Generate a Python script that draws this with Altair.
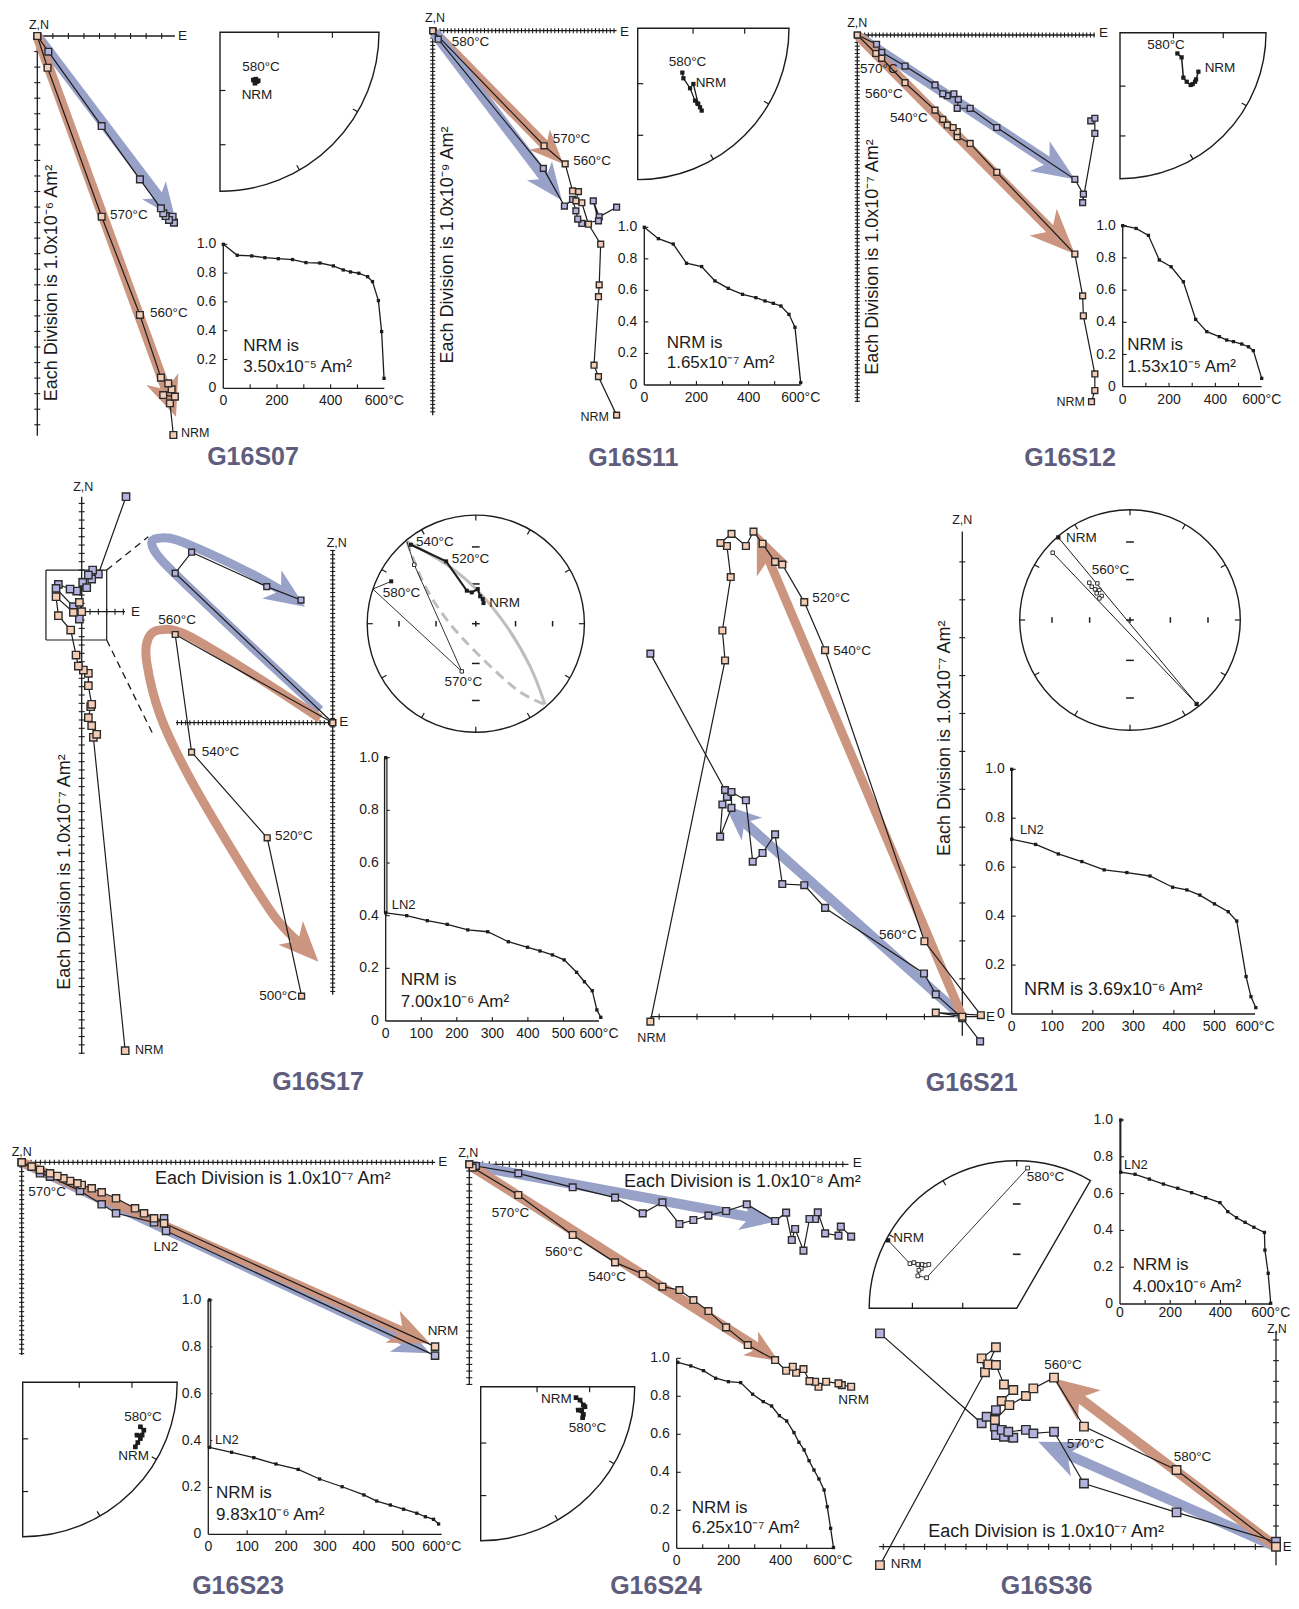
import math
import altair as alt
import pandas as pd

MARGIN = 8
FONT = "Liberation Sans"
INK = "#1c1c1c"
BLUE_BAND = "#98a1c8"
ORANGE_BAND = "#cc957f"
BLUE_FILL = "#b4b3df"
ORANGE_FILL = "#f5cdb5"
SQ_EDGE = "#2c2c2c"
TITLE_COL = "#5e5d7d"
GREY = "#bebebe"
HEAD = "M0,0 L0.85,2 L0,1.45 L-0.85,2 Z"
R60 = math.sqrt(2) * math.sin(math.radians(15))   # equal-area radius, inc 60
R30 = math.sqrt(2) * math.sin(math.radians(30))   # equal-area radius, inc 30

# ============================ DATA ============================
# Zijderveld values in axis divisions (x = E, y = down), stereonet values in
# projected unit-circle coordinates, demag values as (temperature, M/M0).

# ---- G16S07 ----
S07_BLUE_X = [8.79, 8.70, 8.47, 8.25, 8.10, 7.95, 6.60, 4.14, 0.71, 0.0]
S07_BLUE_Y = [12.00, 11.62, 11.83, 11.58, 11.40, 11.08, 9.22, 5.79, 1.01, 0.0]
S07_ORNG_X = [8.75, 8.53, 8.85, 8.10, 8.64, 8.42, 7.95, 6.60, 4.14, 0.66, 0.0]
S07_ORNG_Y = [25.66, 23.62, 23.19, 23.09, 22.72, 22.34, 21.97, 17.94, 11.62, 2.04, 0.0]
S07_BLUE_TIP = (8.86, 11.72)
S07_ORNG_TIP = (8.92, 24.48)
S07_ST_X = [0.21, 0.23, 0.22, 0.24, 0.225]
S07_ST_Y = [-0.30, -0.31, -0.32, -0.305, -0.295]
S07_T = [0, 52, 106, 155, 205, 258, 308, 360, 410, 447, 474, 505, 538, 556, 578, 590, 599]
S07_M = [1.0, 0.924, 0.919, 0.907, 0.900, 0.894, 0.873, 0.870, 0.850, 0.822, 0.808, 0.799,
         0.775, 0.741, 0.609, 0.394, 0.069]

# ---- G16S11 ----
S11_ORNG_X = [49.7, 44.8, 43.6, 44.8, 45.0, 45.4, 42.1, 40.3, 38.7, 39.4, 37.8, 35.8, 30.1, 0.0]
S11_ORNG_Y = [103.9, 93.5, 90.4, 71.9, 68.7, 57.7, 52.3, 46.5, 46.0, 43.5, 43.3, 36.0, 31.1, 0.0]
S11_BLUE_X = [49.7, 45.0, 43.4, 44.8, 40.3, 39.2, 38.7, 37.8, 35.6, 29.9, 1.5, 0.0]
S11_BLUE_Y = [47.7, 50.3, 46.0, 51.4, 52.1, 50.9, 48.7, 45.6, 47.4, 37.2, 2.3, 0.0]
S11_ORNG_TIP = (35.3, 36.0)
S11_BLUE_TIP = (34.9, 45.8)
S11_ST_X = [0.295, 0.302, 0.346, 0.379, 0.394, 0.412, 0.423, 0.400, 0.368]
S11_ST_Y = [-0.293, -0.330, -0.396, -0.478, -0.496, -0.522, -0.544, -0.500, -0.368]
S11_T = [0, 54, 111, 162, 220, 271, 322, 377, 428, 463, 495, 524, 555, 578, 600]
S11_M = [1.0, 0.928, 0.894, 0.772, 0.751, 0.660, 0.613, 0.575, 0.554, 0.533, 0.518, 0.501,
         0.448, 0.366, 0.015]

# ---- G16S12 ----
S12_BLUE_X = [63.1, 64.2, 64.2, 60.9, 61.1, 58.8, 37.7, 30.5, 27.0, 27.3, 26.1, 24.3, 23.1,
              21.0, 12.9, 6.6, 5.2, 0.0]
S12_BLUE_Y = [23.2, 22.5, 26.6, 45.3, 43.0, 39.0, 25.0, 19.8, 19.8, 17.4, 15.9, 16.4, 15.9,
              13.5, 8.4, 4.7, 2.5, 0.0]
S12_ORNG_X = [63.3, 64.2, 64.2, 61.1, 60.9, 58.8, 37.7, 30.5, 27.0, 27.0, 25.9, 24.3, 23.1,
              21.0, 12.9, 6.6, 5.0, 0.0]
S12_ORNG_Y = [99.1, 96.1, 91.6, 75.9, 70.5, 59.2, 37.1, 29.3, 27.5, 26.1, 25.0, 24.3, 22.8,
              20.3, 12.9, 6.3, 5.0, 0.0]
S12_BLUE_TIP = (58.8, 39.0)
S12_ORNG_TIP = (58.8, 59.2)
S12_ST_X = [0.393, 0.422, 0.434, 0.457, 0.484, 0.498, 0.514, 0.521, 0.537]
S12_ST_Y = [-0.142, -0.169, -0.308, -0.336, -0.358, -0.352, -0.336, -0.320, -0.267]
S12_T = [0, 58, 111, 158, 209, 262, 315, 363, 417, 449, 478, 514, 543, 564, 600]
S12_M = [1.0, 0.983, 0.940, 0.787, 0.745, 0.652, 0.418, 0.342, 0.311, 0.290, 0.280, 0.265,
         0.248, 0.224, 0.052]

# ---- G16S17 ----
S17_BLUE_X = [5.32, 2.0, 1.32, 1.2, 0.8, 0.12, 0.6, -0.6, -1.4, -2.8, -3.08, -1.0, -0.28]
S17_BLUE_Y = [-13.8, -4.52, -5.0, -3.92, -4.4, -3.52, -2.88, -2.48, -2.72, -3.28, -2.8, -0.6, 0.88]
S17_ORNG_X = [5.22, 1.4, 1.8, 1.2, 0.8, 1.08, 1.2, 0.8, 0.8, 0.2, -0.4, -0.68, -1.32, -2.8,
              -3.08, -1.0, -0.28, 0.0]
S17_ORNG_Y = [52.7, 15.08, 14.72, 13.68, 12.72, 11.4, 11.12, 8.88, 7.4, 7.0, 6.52, 5.2, 2.2,
              0.48, -1.8, 0.08, -1.12, 0.0]
S17_BOX_X = [-4.29, 3.0]
S17_BOX_Y = [-5.0, 3.4]
S17_IN_BLUE_X = [-7.55, -15.7, -33.6, -37.5, 0.0]
S17_IN_BLUE_Y = [-29.2, -32.4, -40.6, -35.6, 0.0]
S17_IN_ORNG_X = [-7.4, -15.6, -33.6, -37.5, 0.0]
S17_IN_ORNG_Y = [65.1, 27.4, 7.0, -21.0, 0.0]
S17_BBAND_X = [-3.0, -18.9, -34.8, -41.1, -43.1, -41.5, -37.1, -26.8, -18.9, -12.5]
S17_BBAND_Y = [-3.0, -17.7, -32.8, -39.1, -42.7, -43.9, -43.5, -39.1, -35.2, -31.6]
S17_BBAND_TIP = (-6.6, -27.6)
S17_OBAND_X = [-3.0, -18.9, -34.8, -41.1, -43.9, -44.3, -41.1, -34.8, -25.2, -14.1]
S17_OBAND_Y = [-1.0, -11.4, -20.9, -22.1, -20.1, -14.5, -1.8, 11.7, 28.3, 45.8]
S17_OBAND_TIP = (-3.4, 56.9)
S17_ST_X = [0.071, 0.064, 0.040, 0.018, -0.037, -0.083, -0.273, -0.598]
S17_ST_Y = [0.190, 0.227, 0.252, 0.319, 0.288, 0.304, 0.574, 0.727]
S17_ST_THIN_X = [-0.635, -0.567, -0.129, -0.948, -0.779]
S17_ST_THIN_Y = [0.758, 0.543, -0.439, 0.319, 0.390]
S17_GC1_X = [-0.635, -0.267, 0.009, 0.285, 0.500, 0.638]
S17_GC1_Y = [0.758, 0.543, 0.313, -0.025, -0.393, -0.745]
S17_GC2_X = [-0.635, -0.482, -0.267, 0.009, 0.377, 0.638]
S17_GC2_Y = [0.758, 0.374, 0.037, -0.270, -0.607, -0.745]
S17_T = [0, 0, 59, 117, 173, 231, 287, 345, 399, 434, 469, 502, 537, 559, 581, 594, 605]
S17_M = [1.0, 0.411, 0.400, 0.381, 0.367, 0.346, 0.339, 0.301, 0.280, 0.266, 0.251, 0.232,
         0.185, 0.149, 0.115, 0.042, 0.014]

# ---- G16S21 ----
S21_ORNG_X = [-8.23, -6.26, -6.33, -6.11, -6.21, -6.38, -6.09, -5.71, -5.51, -5.27, -4.94,
              -4.75, -4.17, -3.62, -1.0, 0.49, -0.70, 0.0]
S21_ORNG_Y = [0.13, -9.40, -10.19, -11.6, -12.42, -12.5, -12.74, -12.42, -12.8, -12.48, -12.0,
              -11.93, -10.94, -9.67, -1.99, -0.04, -0.11, 0.0]
S21_BLUE_X = [-8.23, -6.26, -6.21, -6.33, -6.39, -6.09, -6.09, -5.71, -5.53, -5.27, -4.94,
              -4.75, -4.17, -3.62, -1.01, -0.70, 0.0, 0.47]
S21_BLUE_Y = [-9.58, -5.98, -5.80, -5.60, -4.75, -5.51, -5.93, -5.71, -4.09, -4.32, -4.81,
              -3.50, -3.47, -2.87, -1.14, -0.59, 0.04, 0.65]
S21_ORNG_TIP = (-5.42, -12.79)
S21_BLUE_TIP = (-6.26, -5.58)
S21_ST_A_X = [-0.650, 0.604]
S21_ST_A_Y = [0.749, -0.761]
S21_ST_B_X = [-0.701, 0.604]
S21_ST_B_Y = [0.610, -0.761]
S21_ST_OPEN_X = [-0.701, -0.369, -0.347, -0.296, -0.317, -0.278, -0.302, -0.257, -0.278]
S21_ST_OPEN_Y = [0.610, 0.338, 0.302, 0.332, 0.278, 0.272, 0.242, 0.218, 0.196]
S21_T = [0, 0, 59, 115, 173, 228, 284, 341, 397, 432, 464, 500, 534, 555, 578, 590, 602]
S21_M = [1.0, 0.714, 0.693, 0.654, 0.623, 0.589, 0.578, 0.564, 0.518, 0.507, 0.486, 0.450,
         0.418, 0.380, 0.153, 0.071, 0.026]

# ---- G16S23 ----
S23_ORNG_X = [88.57, 30.5, 28.36, 26.21, 24.29, 20.21, 17.14, 15.0, 12.86, 11.93, 10.36, 8.93,
              7.64, 6.07, 3.93, 2.14, 0.0]
S23_ORNG_Y = [39.5, 13.07, 12.0, 10.93, 9.86, 7.71, 6.43, 5.57, 4.86, 4.5, 4.0, 3.43, 2.93,
              2.36, 1.64, 0.93, 0.0]
S23_BLUE_X = [88.57, 30.93, 30.5, 28.36, 20.21, 17.14, 12.5, 6.07, 3.93, 0.0]
S23_BLUE_Y = [41.43, 14.71, 12.0, 12.86, 10.93, 9.0, 6.14, 3.07, 2.36, 0.0]
S23_ORNG_TIP = (87.5, 38.8)
S23_BLUE_TIP = (87.5, 40.9)
S23_ST_X = [0.762, 0.784, 0.773, 0.740, 0.762, 0.745, 0.729]
S23_ST_Y = [-0.288, -0.310, -0.342, -0.342, -0.364, -0.390, -0.418]
S23_T = [3, 3, 60, 117, 174, 231, 286, 344, 400, 433, 468, 502, 536, 558, 579, 592]
S23_M = [1.0, 0.371, 0.350, 0.327, 0.300, 0.277, 0.236, 0.203, 0.168, 0.142, 0.125, 0.107,
         0.090, 0.075, 0.064, 0.044]

# ---- G16S24 ----
S24_BLUE_X = [57.25, 55.7, 55.35, 53.35, 52.25, 51.85, 51.0, 50.1, 48.85, 48.35, 47.5, 45.85,
              41.6, 38.5, 35.85, 33.6, 31.5, 28.95, 26.0, 21.85, 15.5, 7.35, 1.0, 0.0]
S24_BLUE_Y = [10.85, 9.35, 10.7, 10.35, 7.2, 8.2, 8.2, 12.95, 9.7, 11.35, 7.25, 8.5, 6.0, 7.0,
              7.7, 8.35, 8.95, 5.7, 7.35, 5.0, 3.45, 1.35, 0.25, 0.0]
S24_ORNG_X = [57.25, 55.85, 55.35, 53.5, 52.35, 51.85, 51.0, 50.1, 49.0, 48.5, 47.5, 45.85,
              41.75, 38.5, 35.85, 33.6, 31.5, 28.95, 26.0, 21.85, 15.5, 7.35, 0.5, 0.0]
S24_ORNG_Y = [33.35, 33.1, 32.85, 32.6, 33.35, 32.6, 32.5, 30.7, 31.25, 30.35, 30.95, 29.35,
              27.1, 24.45, 22.0, 20.35, 18.85, 18.35, 16.45, 14.7, 10.6, 4.6, 0.5, 0.0]
S24_BLUE_TIP = (45.85, 8.6)
S24_ORNG_TIP = (46.35, 29.5)
S24_ST_X = [0.619, 0.645, 0.667, 0.677, 0.656, 0.634, 0.667, 0.662]
S24_ST_Y = [-0.071, -0.087, -0.119, -0.130, -0.152, -0.152, -0.180, -0.201]
S24_T = [4, 54, 103, 150, 199, 246, 292, 333, 365, 395, 423, 451, 470, 490, 509, 528, 547,
         567, 579, 592, 603]
S24_M = [0.979, 0.960, 0.935, 0.895, 0.877, 0.872, 0.811, 0.772, 0.749, 0.698, 0.670, 0.609,
         0.558, 0.518, 0.461, 0.412, 0.365, 0.307, 0.219, 0.105, 0.004]

# ---- G16S36 ----
S36_ORNG_X = [-19.16, -14.08, -14.24, -13.55, -13.92, -13.55, -13.16, -12.71, -13.27, -13.6,
              -12.9, -12.1, -11.74, -10.74, -9.29, -4.81, 0.0]
S36_ORNG_Y = [0.89, -8.44, -9.11, -9.65, -8.82, -8.79, -7.85, -7.58, -7.05, -6.13, -6.85,
              -7.29, -7.66, -8.18, -5.81, -3.71, 0.0]
S36_BLUE_X = [-19.16, -14.24, -14.0, -13.55, -13.6, -13.55, -13.16, -12.71, -13.27, -12.95,
              -12.1, -11.74, -10.74, -9.29, -4.81, 0.0]
S36_BLUE_Y = [-10.32, -5.97, -6.29, -6.61, -5.81, -5.40, -5.32, -5.27, -5.65, -5.56, -5.65,
              -5.48, -5.56, -3.06, -1.66, -0.24]
S36_ORNG_TIP = (-10.77, -8.15)
S36_BLUE_TIP = (-11.5, -5.08)
S36_ST_X = [-0.872, -0.724, -0.697, -0.670, -0.640, -0.618, -0.596, -0.647, -0.663, -0.670,
            -0.611, 0.074]
S36_ST_Y = [0.461, 0.303, 0.310, 0.297, 0.297, 0.292, 0.297, 0.270, 0.258, 0.220, 0.207, 0.951]
S36_T = [3, 3, 60, 117, 173, 230, 285, 341, 398, 429, 464, 498, 533, 575, 577, 590, 600]
S36_M = [1.0, 0.716, 0.705, 0.679, 0.652, 0.629, 0.605, 0.578, 0.551, 0.502, 0.469, 0.444,
         0.417, 0.389, 0.293, 0.167, 0.004]

Y_TICK_VALS = [0, 0.2, 0.4, 0.6, 0.8, 1.0]
Y_TICK_TEXT = ["0", "0.2", "0.4", "0.6", "0.8", "1.0"]
X_LAB_200 = ([0, 200, 400, 600], ["0", "200", "400", "600°C"])
X_LAB_100 = ([0, 100, 200, 300, 400, 500, 600], ["0", "100", "200", "300", "400", "500", "600°C"])


# ============================ HELPERS ============================
class Panel:
    def __init__(self, xdom, xpx, ydom, ypx):
        self.xd, self.xp, self.yd, self.yp = xdom, xpx, ydom, ypx
        self.xs = alt.Scale(domain=list(xdom), range=[xpx[0] - MARGIN, xpx[1] - MARGIN],
                            nice=False, zero=False)
        self.ys = alt.Scale(domain=list(ydom), range=[ypx[0] - MARGIN, ypx[1] - MARGIN],
                            nice=False, zero=False)
        self.kx = (xpx[1] - xpx[0]) / (xdom[1] - xdom[0])
        self.ky = (ypx[1] - ypx[0]) / (ydom[1] - ydom[0])
        self.ppx, self.ppy = abs(self.kx), abs(self.ky)
        self.layers = []

    def ux(self, px):
        return self.xd[0] + (px - self.xp[0]) / self.kx

    def uy(self, py):
        return self.yd[0] + (py - self.yp[0]) / self.ky

    def enc(self, **extra):
        e = dict(x=alt.X("x:Q", scale=self.xs, axis=None),
                 y=alt.Y("y:Q", scale=self.ys, axis=None))
        e.update(extra)
        return e

    def line(self, xs, ys, **kw):
        df = pd.DataFrame({"x": list(xs), "y": list(ys), "i": list(range(len(xs)))})
        self.layers.append(alt.Chart(df).mark_line(**kw).encode(**self.enc(order=alt.Order("i:Q"))))

    def pts(self, xs, ys, **kw):
        df = pd.DataFrame({"x": list(xs), "y": list(ys)})
        self.layers.append(alt.Chart(df).mark_point(**kw).encode(**self.enc()))

    def squares(self, xs, ys, fill, size, edge=SQ_EDGE, sw=1.4):
        self.pts(xs, ys, shape="square", filled=True, fill=fill, stroke=edge, strokeWidth=sw,
                 size=size, opacity=1)

    def rules(self, x1, y1, x2, y2, **kw):
        df = pd.DataFrame({"x": list(x1), "y": list(y1), "x2": list(x2), "y2": list(y2)})
        self.layers.append(alt.Chart(df).mark_rule(**kw).encode(
            **self.enc(x2=alt.X2("x2"), y2=alt.Y2("y2"))))

    def text(self, xs, ys, labels, size=13.5, align="left", **kw):
        df = pd.DataFrame({"x": list(xs), "y": list(ys), "t": list(labels)})
        mk = dict(font=FONT, fontSize=size, align=align, baseline="middle", color=INK)
        mk.update(kw)
        self.layers.append(alt.Chart(df).mark_text(**mk).encode(**self.enc(text="t:N")))

    def ptext(self, spots, size=13.5, align="left", **kw):
        self.text([self.ux(s[0]) for s in spots], [self.uy(s[1]) for s in spots],
                  [s[2] for s in spots], size=size, align=align, **kw)

    def arrow(self, bx, by, tip, L, color, width, curve=False):
        lx, ly = bx[-1], by[-1]
        dx, dy = tip[0] - lx, tip[1] - ly
        sx, sy = dx * self.kx, dy * self.ky
        dpx = math.hypot(sx, sy)
        f = max(0.0, 1 - 0.5 * L / dpx)
        xs = list(bx) + [lx + dx * f]
        ys = list(by) + [ly + dy * f]
        self.line(xs, ys, color=color, strokeWidth=width, strokeCap="butt", strokeJoin="round",
                  interpolate="cardinal" if curve else "linear")
        ang = math.degrees(math.atan2(sx, -sy)) % 360
        self.pts([tip[0]], [tip[1]], shape=HEAD, size=L * L, filled=True, color=color,
                 angle=ang, opacity=1, strokeWidth=0)

    def chart(self):
        return alt.layer(*self.layers)


def zij_panel(ox, oy, div):
    return Panel((0, 10), (ox, ox + 10 * div), (0, 10), (oy, oy + 10 * div))


def stereo_panel(cx, cy, R):
    return Panel((-1, 1), (cx - R, cx + R), (-1, 1), (cy + R, cy - R))


def zij_axes(p, xext, yext, hpx):
    t = hpx / p.ppx
    p.rules([xext[0], 0], [0, yext[0]], [xext[1], 0], [0, yext[1]], color=INK, strokeWidth=1.3)
    xt = [k for k in range(math.ceil(xext[0]), math.floor(xext[1]) + 1) if k != 0]
    yt = [k for k in range(math.ceil(yext[0]), math.floor(yext[1]) + 1) if k != 0]
    p.rules(xt, [-t] * len(xt), xt, [t] * len(xt), color=INK, strokeWidth=1.1)
    p.rules([-t] * len(yt), yt, [t] * len(yt), yt, color=INK, strokeWidth=1.1)


def series(p, bx, by, ox, oy, size):
    p.line(bx, by, color=INK, strokeWidth=1.2)
    p.line(ox, oy, color=INK, strokeWidth=1.2)
    p.squares(bx, by, BLUE_FILL, size)
    p.squares(ox, oy, ORANGE_FILL, size)


def put_labels(p, items):
    groups = {}
    for (x, y, s, al, sz) in items:
        groups.setdefault((al, sz), []).append((x, y, s))
    for (al, sz), spots in groups.items():
        p.ptext(spots, size=sz, align=al)


def stereo_frame(p, kind):
    th = {"SE": (math.pi / 2, math.pi), "full": (0.0, 2 * math.pi),
          "WN": (1.5 * math.pi, 2 * math.pi + math.pi / 6)}[kind]
    df = pd.DataFrame({"x": [0.0], "y": [0.0]})
    p.layers.append(alt.Chart(df).mark_arc(
        theta=th[0], theta2=th[1], radius=p.ppx, radius2=0, filled=False, color=INK,
        stroke=INK, strokeWidth=1.4).encode(**p.enc()))
    t = 5.5 / p.ppx
    kw = dict(color=INK, strokeWidth=1.2)
    if kind == "SE":
        angs = [120, 150]
        p.rules([R60, R30], [0, 0], [R60, R30], [-t, -t], **kw)
        p.rules([0, 0], [-R60, -R30], [t, t], [-R60, -R30], **kw)
    elif kind == "WN":
        angs = [300, 330, 0]
        p.rules([-R60, -R30], [0, 0], [-R60, -R30], [t, t], **kw)
        p.rules([-t * 0.7] * 2, [R60, R30], [t * 0.7] * 2, [R60, R30], color=INK, strokeWidth=1.6)
    else:
        angs = list(range(0, 360, 30))
        inner = [-R30, -R60, 0.0, R60, R30]
        p.rules(inner, [-t / 2] * 5, inner, [t / 2] * 5, color=INK, strokeWidth=1.5)
        p.rules([-t * 0.7] * 5, inner, [t * 0.7] * 5, inner, color=INK, strokeWidth=1.5)
    a = [math.radians(v) for v in angs]
    p.rules([math.sin(v) for v in a], [math.cos(v) for v in a],
            [(1 - t) * math.sin(v) for v in a], [(1 - t) * math.cos(v) for v in a], **kw)


def build_demag(x0, x600, y0, y1, T, M, xlab, double=False, xdy=13):
    p = Panel((0, 600), (x0, x600), (0, 1), (y0, y1))
    tx, ty = 4 / p.ppx, 4 / p.ppy
    p.rules([0, 0], [0, 0], [600, 0], [0, 1], color=INK, strokeWidth=1.3)
    yv = [0.2, 0.4, 0.6, 0.8, 1.0]
    p.rules([0] * 5, yv, [tx] * 5, yv, color=INK, strokeWidth=1.1)
    xv = [100, 200, 300, 400, 500]
    p.rules(xv, [0] * 5, xv, [ty] * 5, color=INK, strokeWidth=1.1)
    p.text([0] * 6, Y_TICK_VALS, Y_TICK_TEXT, size=14, align="right", dx=-7)
    p.text(xlab[0], [0] * len(xlab[0]), xlab[1], size=14, align="center", dy=xdy)
    if double:
        p.line(T[:2], M[:2], color=INK, strokeWidth=3.6)
        p.line(T[:2], M[:2], color="#c8c8c8", strokeWidth=1.4)
        p.line(T[1:], M[1:], color=INK, strokeWidth=1.3)
    else:
        p.line(T, M, color=INK, strokeWidth=1.3)
    p.pts(T, M, shape="square", filled=True, color=INK, size=11, opacity=1)
    return p


layers = []
page = []


def page_text(x, y, s, size, align="center", angle=None, weight="normal", color=INK):
    mk = dict(font=FONT, fontSize=size, align=align, baseline="middle", fontWeight=weight,
              color=color)
    if angle is not None:
        mk["angle"] = angle
    page.append(alt.Chart(pd.DataFrame({"t": [s]})).mark_text(**mk).encode(
        x=alt.value(x - MARGIN), y=alt.value(y - MARGIN), text="t:N"))


def title(x, y, s):
    page_text(x, y, s, 25, weight="bold", color=TITLE_COL)


# ============================ G16S07 ============================
z = zij_panel(37.3, 36.0, 15.55)
zij_axes(z, (0, 8.85), (0, 25.7), 3.0)
z.arrow([0.0], [0.0], S07_BLUE_TIP, 35, BLUE_BAND, 10)
z.arrow([0.0], [0.0], S07_ORNG_TIP, 40, ORANGE_BAND, 10)
series(z, S07_BLUE_X, S07_BLUE_Y, S07_ORNG_X, S07_ORNG_Y, 45)
put_labels(z, [(39, 25, "Z,N", "center", 12.5), (178, 35.5, "E", "left", 13.5),
               (110, 215, "570°C", "left", 13.5), (150, 313, "560°C", "left", 13.5),
               (181, 433, "NRM", "left", 12.5)])
layers.append(z.chart())
s = stereo_panel(220, 32.3, 159)
stereo_frame(s, "SE")
s.line(S07_ST_X, S07_ST_Y, color=INK, strokeWidth=2.5)
s.pts(S07_ST_X, S07_ST_Y, shape="square", filled=True, color=INK, size=22, opacity=1)
put_labels(s, [(261, 67, "580°C", "center", 13.5), (257, 95, "NRM", "center", 13.5)])
layers.append(s.chart())
layers.append(build_demag(223.3, 384.3, 388.3, 244.3, S07_T, S07_M, X_LAB_200).chart())
page_text(51.7, 283, "Each Division is 1.0x10⁻⁶ Am²", 18, angle=270)
page_text(243.3, 345.5, "NRM is", 17, align="left")
page_text(243.3, 366.7, "3.50x10⁻⁵ Am²", 17, align="left")
title(253, 457, "G16S07")

# ============================ G16S11 ============================
z = zij_panel(432.7, 30.7, 3.7)
zij_axes(z, (0, 49.7), (0, 103.9), 2.5)
z.arrow([0.5], [0.5], S11_ORNG_TIP, 34, ORANGE_BAND, 10)
z.arrow([0.5], [0.5], S11_BLUE_TIP, 37, BLUE_BAND, 11)
series(z, S11_BLUE_X, S11_BLUE_Y, S11_ORNG_X, S11_ORNG_Y, 34)
put_labels(z, [(435, 18.3, "Z,N", "center", 12.5), (620, 31.7, "E", "left", 13.5),
               (451.7, 41.7, "580°C", "left", 13.5), (552.7, 139.3, "570°C", "left", 13.5),
               (573.3, 161, "560°C", "left", 13.5), (609, 416.7, "NRM", "right", 12.5)])
layers.append(z.chart())
s = stereo_panel(637.7, 28.3, 151.3)
stereo_frame(s, "SE")
s.line(S11_ST_X, S11_ST_Y, color=INK, strokeWidth=1.3)
s.pts(S11_ST_X, S11_ST_Y, shape="square", filled=True, color=INK, size=18, opacity=1)
put_labels(s, [(687.5, 61.7, "580°C", "center", 13.5), (711, 82.7, "NRM", "center", 13.5)])
layers.append(s.chart())
layers.append(build_demag(644.3, 800.7, 385, 227.3, S11_T, S11_M, X_LAB_200).chart())
page_text(448.3, 245, "Each Division is 1.0x10⁻⁹ Am²", 18, angle=270)
page_text(666.7, 343.3, "NRM is", 17, align="left")
page_text(666.7, 363.3, "1.65x10⁻⁷ Am²", 17, align="left")
title(633.3, 458.3, "G16S11")

# ============================ G16S12 ============================
z = zij_panel(857.3, 35.0, 3.7)
zij_axes(z, (0, 64.2), (0, 99.1), 2.5)
z.arrow([0.5], [0.5], S12_BLUE_TIP, 42, BLUE_BAND, 10)
z.arrow([0.5], [0.5], S12_ORNG_TIP, 45, ORANGE_BAND, 10)
series(z, S12_BLUE_X, S12_BLUE_Y, S12_ORNG_X, S12_ORNG_Y, 34)
put_labels(z, [(857.3, 23.3, "Z,N", "center", 12.5), (1099, 33.3, "E", "left", 13.5),
               (860, 69.3, "570°C", "left", 13.5), (865, 94.3, "560°C", "left", 13.5),
               (890, 118.3, "540°C", "left", 13.5), (1085, 401.7, "NRM", "right", 12.5)])
layers.append(z.chart())
s = stereo_panel(1120, 32.7, 146)
stereo_frame(s, "SE")
s.line(S12_ST_X, S12_ST_Y, color=INK, strokeWidth=1.5)
s.pts(S12_ST_X, S12_ST_Y, shape="square", filled=True, color=INK, size=18, opacity=1)
put_labels(s, [(1166, 45, "580°C", "center", 13.5), (1220, 68.3, "NRM", "center", 13.5)])
layers.append(s.chart())
layers.append(build_demag(1122.7, 1261.7, 386.7, 225.7, S12_T, S12_M, X_LAB_200).chart())
page_text(873.3, 257, "Each Division is 1.0x10⁻⁷ Am²", 18, angle=270)
page_text(1127.3, 345, "NRM is", 17, align="left")
page_text(1127.3, 366.7, "1.53x10⁻⁵ Am²", 17, align="left")
title(1070, 458.3, "G16S12")

# ============================ G16S17 ============================
z = zij_panel(81.7, 611.7, 8.33)
zij_axes(z, (0, 5.2), (-13.8, 53.1), 3.0)
bx, by = S17_BOX_X, S17_BOX_Y
z.rules([bx[0], bx[1], bx[1], bx[0]], [by[0], by[0], by[1], by[1]],
        [bx[1], bx[1], bx[0], bx[0]], [by[0], by[1], by[1], by[0]], color=INK, strokeWidth=1.2)
z.rules([bx[1], bx[1]], [by[0], by[1]], [8.0, 8.6], [-9.0, 14.8], color=INK, strokeWidth=1.3,
        strokeDash=[7, 5])
series(z, S17_BLUE_X, S17_BLUE_Y, S17_ORNG_X, S17_ORNG_Y, 54)
put_labels(z, [(83.3, 487.3, "Z,N", "center", 12.5), (131, 612.3, "E", "left", 13.5),
               (135, 1050, "NRM", "left", 12.5)])
layers.append(z.chart())
z = zij_panel(332.7, 722.7, 4.2)
zij_axes(z, (-37.3, 0), (-41.1, 64.8), 2.5)
z.arrow(S17_BBAND_X, S17_BBAND_Y, S17_BBAND_TIP, 40, BLUE_BAND, 9, curve=True)
z.arrow(S17_OBAND_X, S17_OBAND_Y, S17_OBAND_TIP, 40, ORANGE_BAND, 9, curve=True)
series(z, S17_IN_BLUE_X, S17_IN_BLUE_Y, S17_IN_ORNG_X, S17_IN_ORNG_Y, 34)
put_labels(z, [(336.7, 543.3, "Z,N", "center", 12.5), (339.3, 721.7, "E", "left", 13.5),
               (158.3, 620, "560°C", "left", 13.5), (201.7, 752.3, "540°C", "left", 13.5),
               (275, 835.7, "520°C", "left", 13.5), (297, 996, "500°C", "right", 13.5)])
layers.append(z.chart())
s = stereo_panel(475.8, 623.7, 108.6)
stereo_frame(s, "full")
s.line(S17_GC1_X, S17_GC1_Y, color=GREY, strokeWidth=3, interpolate="cardinal")
s.line(S17_GC2_X, S17_GC2_Y, color=GREY, strokeWidth=3, strokeDash=[10, 6], interpolate="cardinal")
s.line(S17_ST_THIN_X, S17_ST_THIN_Y, color=INK, strokeWidth=0.9)
s.line(S17_ST_X, S17_ST_Y, color=INK, strokeWidth=2)
s.pts(S17_ST_X, S17_ST_Y, shape="square", filled=True, color=INK, size=16, opacity=1)
s.squares(S17_ST_THIN_X[1:3], S17_ST_THIN_Y[1:3], "white", 12, edge=INK, sw=0.9)
s.pts(S17_ST_THIN_X[4:], S17_ST_THIN_Y[4:], shape="square", filled=True, color=INK, size=16,
      opacity=1)
put_labels(s, [(416, 541.7, "540°C", "left", 13.5), (451.7, 559.3, "520°C", "left", 13.5),
               (382.7, 592.7, "580°C", "left", 13.5), (489.3, 602.7, "NRM", "left", 13.5),
               (463.3, 681.7, "570°C", "center", 13.5)])
layers.append(s.chart())
d = build_demag(385.7, 599, 1021, 757.7, S17_T, S17_M, X_LAB_100, double=True)
put_labels(d, [(391.7, 905, "LN2", "left", 13)])
layers.append(d.chart())
page_text(64.6, 872, "Each Division is 1.0x10⁻⁷ Am²", 18, angle=270)
page_text(400.7, 980, "NRM is", 17, align="left")
page_text(400.7, 1001.7, "7.00x10⁻⁶ Am²", 17, align="left")
title(318, 1082, "G16S17")

# ============================ G16S21 ============================
z = zij_panel(962.3, 1016.7, 37.9)
zij_axes(z, (-8.23, 0.6), (-12.8, 0.5), 3.0)
z.arrow([0.0], [0.0], S21_BLUE_TIP, 36, BLUE_BAND, 10)
z.arrow([0.0], [0.0], S21_ORNG_TIP, 41, ORANGE_BAND, 9)
series(z, S21_BLUE_X, S21_BLUE_Y, S21_ORNG_X, S21_ORNG_Y, 45)
put_labels(z, [(962.3, 520, "Z,N", "center", 12.5), (986, 1016.7, "E", "left", 13.5),
               (812.3, 597.7, "520°C", "left", 13.5), (833.3, 651, "540°C", "left", 13.5),
               (916.7, 935, "560°C", "right", 13.5), (651.6, 1038.4, "NRM", "center", 12.5)])
layers.append(z.chart())
s = stereo_panel(1130, 620, 110.3)
stereo_frame(s, "full")
s.line(S21_ST_A_X, S21_ST_A_Y, color=INK, strokeWidth=1.0)
s.line(S21_ST_B_X, S21_ST_B_Y, color=INK, strokeWidth=1.0)
s.squares(S21_ST_OPEN_X, S21_ST_OPEN_Y, "white", 12, edge=INK, sw=0.9)
s.pts(S21_ST_A_X, S21_ST_A_Y, shape="square", filled=True, color=INK, size=18, opacity=1)
put_labels(s, [(1066, 538.3, "NRM", "left", 13.5), (1110.5, 570, "560°C", "center", 13.5)])
layers.append(s.chart())
d = build_demag(1011.7, 1255, 1014, 769.3, S21_T, S21_M, X_LAB_100)
put_labels(d, [(1020, 830, "LN2", "left", 13)])
layers.append(d.chart())
page_text(945, 738.3, "Each Division is 1.0x10⁻⁷ Am²", 18, angle=270)
page_text(1024, 990, "NRM is 3.69x10⁻⁶ Am²", 18, align="left")
title(971.7, 1082.6, "G16S21")

# ============================ G16S23 ============================
z = zij_panel(21.7, 1162.3, 4.667)
zij_axes(z, (0, 88.6), (0, 41.3), 2.5)
z.arrow([0.5], [0.3], S23_BLUE_TIP, 37, BLUE_BAND, 9)
z.arrow([0.5], [0.2], S23_ORNG_TIP, 41, ORANGE_BAND, 9)
series(z, S23_BLUE_X, S23_BLUE_Y, S23_ORNG_X, S23_ORNG_Y, 52)
put_labels(z, [(21.7, 1151.7, "Z,N", "center", 12.5), (438.3, 1162.3, "E", "left", 13.5),
               (28.3, 1192.3, "570°C", "left", 13.5), (165.8, 1246.7, "LN2", "center", 13.5),
               (443, 1331, "NRM", "center", 13.5)])
layers.append(z.chart())
s = stereo_panel(22.7, 1382.3, 154.5)
stereo_frame(s, "SE")
s.line(S23_ST_X, S23_ST_Y, color=INK, strokeWidth=2.5)
s.pts(S23_ST_X, S23_ST_Y, shape="square", filled=True, color=INK, size=22, opacity=1)
put_labels(s, [(143, 1416.7, "580°C", "center", 13.5), (133.7, 1455.7, "NRM", "center", 13.5)])
layers.append(s.chart())
d = build_demag(208.3, 441.7, 1534.3, 1300, S23_T, S23_M, X_LAB_100, double=True)
put_labels(d, [(215, 1440, "LN2", "left", 13)])
layers.append(d.chart())
page_text(155, 1179, "Each Division is 1.0x10⁻⁷ Am²", 18, align="left")
page_text(216, 1493.3, "NRM is", 17, align="left")
page_text(216, 1515, "9.83x10⁻⁶ Am²", 17, align="left")
title(238, 1586, "G16S23")

# ============================ G16S24 ============================
z = zij_panel(469.3, 1164.3, 6.67)
zij_axes(z, (0, 56.85), (0, 33.1), 3.0)
z.arrow([0.5], [0.2], S24_BLUE_TIP, 35, BLUE_BAND, 10)
z.arrow([0.5], [0.4], S24_ORNG_TIP, 33, ORANGE_BAND, 10)
series(z, S24_BLUE_X, S24_BLUE_Y, S24_ORNG_X, S24_ORNG_Y, 45)
put_labels(z, [(468.3, 1153.3, "Z,N", "center", 12.5), (852.7, 1163.3, "E", "left", 13.5),
               (491.7, 1213.3, "570°C", "left", 13.5), (545, 1251.7, "560°C", "left", 13.5),
               (588.3, 1276.7, "540°C", "left", 13.5), (853.7, 1400, "NRM", "center", 13.5)])
layers.append(z.chart())
s = stereo_panel(480.7, 1386.7, 154)
stereo_frame(s, "SE")
s.line(S24_ST_X, S24_ST_Y, color=INK, strokeWidth=2.5)
s.pts(S24_ST_X, S24_ST_Y, shape="square", filled=True, color=INK, size=22, opacity=1)
put_labels(s, [(571.7, 1399.3, "NRM", "right", 13.5), (587.5, 1428.3, "580°C", "center", 13.5)])
layers.append(s.chart())
layers.append(build_demag(676.7, 832.7, 1548.3, 1358.3, S24_T, S24_M, X_LAB_200).chart())
page_text(624, 1181.7, "Each Division is 1.0x10⁻⁸ Am²", 18, align="left")
page_text(691.7, 1508.3, "NRM is", 17, align="left")
page_text(691.7, 1528.3, "6.25x10⁻⁷ Am²", 17, align="left")
title(656, 1586, "G16S24")

# ============================ G16S36 ============================
z = zij_panel(1276, 1546.7, 20.67)
zij_axes(z, (-19.2, 0), (-10.45, 0.9), 3.0)
z.arrow([0.0], [0.0], S36_BLUE_TIP, 44, BLUE_BAND, 10)
z.arrow([0.0], [0.0], S36_ORNG_TIP, 45, ORANGE_BAND, 10)
series(z, S36_BLUE_X, S36_BLUE_Y, S36_ORNG_X, S36_ORNG_Y, 72)
put_labels(z, [(1277, 1328.5, "Z,N", "center", 12), (1282.7, 1546.7, "E", "left", 13.5),
               (1063, 1365, "560°C", "center", 13.5), (1085.5, 1444.3, "570°C", "center", 13.5),
               (1192.5, 1456.7, "580°C", "center", 13.5), (890.7, 1564.3, "NRM", "left", 13.5)])
layers.append(z.chart())
s = stereo_panel(1016.7, 1308.3, 147.5)
stereo_frame(s, "WN")
s.line(S36_ST_X, S36_ST_Y, color=INK, strokeWidth=0.9)
s.squares(S36_ST_X[1:], S36_ST_Y[1:], "white", 14, edge=INK, sw=0.9)
s.pts(S36_ST_X[:1], S36_ST_Y[:1], shape="square", filled=True, color=INK, size=18, opacity=1)
put_labels(s, [(893.3, 1237.7, "NRM", "left", 13.5), (1026.7, 1176.7, "580°C", "left", 13.5)])
layers.append(s.chart())
d = build_demag(1120, 1270.7, 1304, 1120, S36_T, S36_M, X_LAB_200, xdy=9)
put_labels(d, [(1124, 1165, "LN2", "left", 13)])
layers.append(d.chart())
page_text(928.3, 1531.7, "Each Division is 1.0x10⁻⁷ Am²", 18, align="left")
page_text(1132.7, 1265, "NRM is", 17, align="left")
page_text(1132.7, 1286.7, "4.00x10⁻⁶ Am²", 17, align="left")
title(1046.6, 1586, "G16S36")

chart = alt.layer(*layers, *page).resolve_scale(
    x="independent", y="independent"
).properties(
    width=1283, height=1593, padding=0,
    autosize=alt.AutoSizeParams(type="none"),
).configure_view(stroke="transparent")

chart.save("out.html", embed_options={"renderer": "svg", "actions": False})
